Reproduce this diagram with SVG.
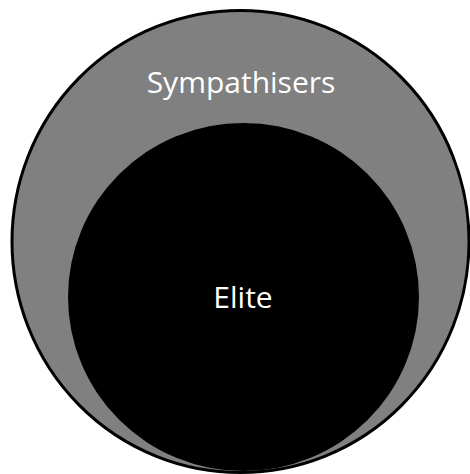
<svg xmlns="http://www.w3.org/2000/svg" width="470" height="474" viewBox="0 0 470 474">
<style>
.lbl{font-family:"Open Sans","Liberation Sans",sans-serif;fill:#ffffff;text-anchor:middle;font-size:30px}
</style>
<rect width="470" height="474" fill="#ffffff"/>
<g id="sympathisers">
<ellipse cx="240.5" cy="241.5" rx="228.5" ry="231" fill="#808080" stroke="#000000" stroke-width="3"/>
<text class="lbl" x="241" y="93">Sympathisers</text>
</g>
<g id="elite">
<ellipse cx="243.5" cy="297" rx="175.5" ry="174" fill="#000000"/>
<text class="lbl" x="243" y="308">Elite</text>
</g>
</svg>
